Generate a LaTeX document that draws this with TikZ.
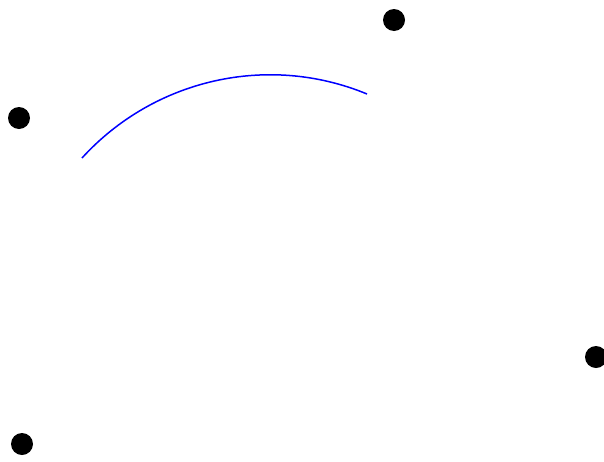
\documentclass[tikz,border=0pt]{standalone}
\usepackage{tikz}
\usetikzlibrary{positioning,calc}

\begin{document}
\begin{tikzpicture}[
    x=0.5pt, y=-0.5pt,
    dot/.style={circle, fill=black, inner sep=0pt, minimum size=11pt},
    curve/.style={blue, line width=0.75pt},
]
\useasboundingbox (0,0) rectangle (604,461);

\node[dot] (ptleft) at (19,118) {};
\node[dot] (pttop) at (394,20) {};
\node[dot] (ptright) at (596,357) {};
\node[dot] (ptbottom) at (22,444) {};

% ===== CURVE =====
\coordinate (cstart) at (82,158);
\coordinate (cend) at (367,94);
\draw[curve] (cstart) .. controls (154,79) and (268,53) .. (cend);

\end{tikzpicture}
\end{document}
